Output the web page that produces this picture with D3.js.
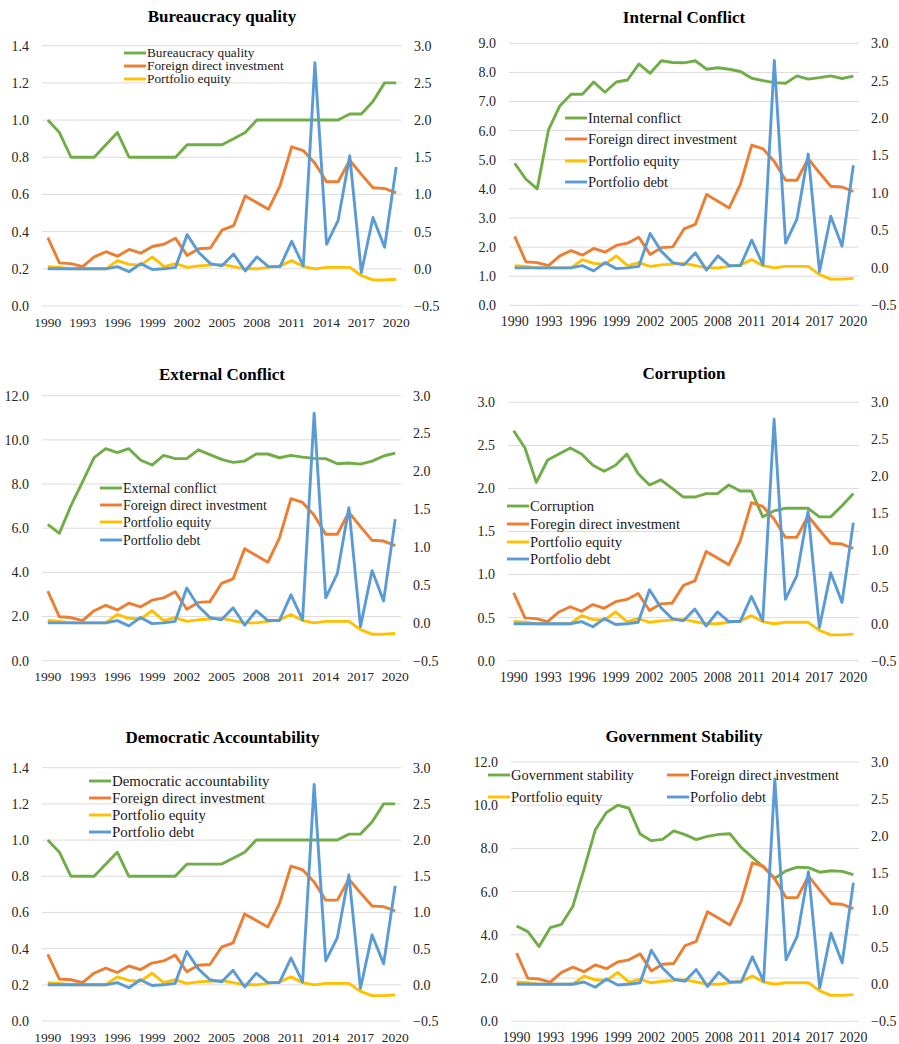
<!DOCTYPE html>
<html><head><meta charset="utf-8">
<script src="https://cdn.jsdelivr.net/npm/d3@7"></script>
<style>body{margin:0;background:#fff}svg{display:block}text{font-family:"Liberation Serif","Times New Roman",serif}</style>
</head><body><svg id="c" width="899" height="1044"></svg>
<script>
const years = d3.range(1990, 2021);
const yearTicks = [1990,1993,1996,1999,2002,2005,2008,2011,2014,2017,2020];
const fdi = [0.42,0.08,0.07,0.03,0.16,0.23,0.17,0.26,0.21,0.30,0.33,0.41,0.18,0.27,0.28,0.52,0.58,0.98,0.89,0.80,1.12,1.64,1.59,1.42,1.17,1.17,1.46,1.27,1.09,1.08,1.02];
const equity = [0.03,0.02,0.00,0.00,0.00,0.00,0.11,0.06,0.05,0.16,0.03,0.07,0.02,0.04,0.05,0.06,0.03,0.00,0.00,0.02,0.04,0.11,0.03,0.00,0.02,0.02,0.02,-0.09,-0.15,-0.15,-0.14];
const debt = [0,0,0,0,0,0,0.03,-0.04,0.07,-0.01,0.00,0.02,0.46,0.22,0.07,0.04,0.20,-0.03,0.16,0.03,0.03,0.37,0.04,2.77,0.33,0.65,1.52,-0.05,0.69,0.29,1.37];
const bureaucracy = [1.0,0.933,0.8,0.8,0.8,0.867,0.933,0.8,0.8,0.8,0.8,0.8,0.867,0.867,0.867,0.867,0.9,0.933,1.0,1.0,1.0,1.0,1.0,1.0,1.0,1.0,1.033,1.033,1.1,1.2,1.2];
const internalConflict = [4.88,4.33,4.0,6.03,6.85,7.25,7.25,7.67,7.32,7.67,7.74,8.29,7.97,8.40,8.34,8.33,8.40,8.11,8.16,8.11,8.03,7.80,7.72,7.65,7.63,7.88,7.77,7.82,7.88,7.79,7.87];
const externalConflict = [6.17,5.77,7.02,8.1,9.2,9.6,9.42,9.6,9.09,8.86,9.3,9.15,9.15,9.55,9.33,9.12,8.98,9.04,9.36,9.36,9.19,9.3,9.22,9.16,9.15,8.92,8.95,8.9,9.04,9.27,9.4];
const corruption = [2.67,2.47,2.07,2.33,2.40,2.47,2.40,2.27,2.20,2.27,2.40,2.17,2.04,2.10,2.0,1.90,1.90,1.94,1.94,2.04,1.97,1.97,1.67,1.74,1.77,1.77,1.77,1.67,1.67,1.80,1.94];
const democratic = [1.0,0.933,0.8,0.8,0.8,0.867,0.933,0.8,0.8,0.8,0.8,0.8,0.867,0.867,0.867,0.867,0.9,0.933,1.0,1.0,1.0,1.0,1.0,1.0,1.0,1.0,1.033,1.033,1.1,1.2,1.2];
const govStability = [4.41,4.15,3.46,4.33,4.49,5.31,7.03,8.85,9.66,10.0,9.86,8.67,8.36,8.42,8.81,8.64,8.41,8.56,8.65,8.68,8.05,7.59,7.13,6.62,6.96,7.13,7.11,6.90,6.97,6.94,6.79];
const rightTicks = [-0.5,0,0.5,1.0,1.5,2.0,2.5,3.0];

const COL = {inst:"#70AD47", fdi:"#ED7D31", eq:"#FFC000", debt:"#5B9BD5"};

const panels = [
 {title:"Bureaucracy quality", inst:bureaucracy, lmax:1.4, lstep:0.2, x0:42, x1:402, yT:45.7, yB:306, tx:222, ty:22, yf:13.5, lgFont:13.3,
  legend:[{n:"Bureaucracy quality",c:COL.inst,x:124,y:53},{n:"Foreign direct investment",c:COL.fdi,x:124,y:66},{n:"Portfolio equity",c:COL.eq,x:124,y:79}]},
 {title:"Internal Conflict", inst:internalConflict, lmax:9, lstep:1, x0:509, x1:859, yT:43.3, yB:305.3, tx:684, ty:22.5, yf:14, lgFont:14.5,
  legend:[{n:"Internal conflict",c:COL.inst,x:565,y:118},{n:"Foreign direct investment",c:COL.fdi,x:565,y:139},{n:"Portfolio equity",c:COL.eq,x:565,y:161},{n:"Portfolio debt",c:COL.debt,x:565,y:182}]},
 {title:"External Conflict", inst:externalConflict, lmax:12, lstep:2, x0:42, x1:401, yT:395.7, yB:660.7, tx:222, ty:380, yf:13.5, lgFont:14,
  legend:[{n:"External conflict",c:COL.inst,x:100,y:488},{n:"Foreign direct investment",c:COL.fdi,x:100,y:505},{n:"Portfolio equity",c:COL.eq,x:100,y:522},{n:"Portfolio debt",c:COL.debt,x:100,y:540}]},
 {title:"Corruption", inst:corruption, lmax:3, lstep:0.5, x0:508, x1:859, yT:402.3, yB:660.7, tx:684, ty:379, yf:14, lgFont:14.6,
  legend:[{n:"Corruption",c:COL.inst,x:507,y:506},{n:"Foregin direct investment",c:COL.fdi,x:507,y:524},{n:"Portfolio equity",c:COL.eq,x:507,y:542},{n:"Portfolio debt",c:COL.debt,x:507,y:559}]},
 {title:"Democratic Accountability", inst:democratic, lmax:1.4, lstep:0.2, x0:42, x1:401, yT:767.7, yB:1021, tx:222.5, ty:743, yf:13.5, lgFont:14.9,
  legend:[{n:"Democratic accountability",c:COL.inst,x:89,y:781},{n:"Foreign direct investment",c:COL.fdi,x:89,y:798},{n:"Portfolio equity",c:COL.eq,x:89,y:815},{n:"Portfolio debt",c:COL.debt,x:89,y:832}]},
 {title:"Government Stability", inst:govStability, lmax:12, lstep:2, x0:511, x1:859, yT:762, yB:1021.3, tx:684, ty:742, yf:14, lgFont:14.5,
  legend:[{n:"Government stability",c:COL.inst,x:488,y:775},{n:"Foreign direct investment",c:COL.fdi,x:667,y:775},{n:"Portfolio equity",c:COL.eq,x:488,y:797},{n:"Porfolio debt",c:COL.debt,x:667,y:797}]}
];

const svg = d3.select("#c");
svg.append("rect").attr("width",899).attr("height",1044).attr("fill","#fff");

panels.forEach(p => {
  const g = svg.append("g");
  const x = d3.scalePoint().domain(years).range([p.x0, p.x1]).padding(0.5);
  const yL = d3.scaleLinear().domain([0, p.lmax]).range([p.yB, p.yT]);
  const yR = d3.scaleLinear().domain([-0.5, 3]).range([p.yB, p.yT]);
  const lt = d3.range(0, p.lmax + p.lstep/2, p.lstep);

  g.selectAll(".grid").data(lt).enter().append("line")
    .attr("x1", p.x0).attr("x2", p.x1)
    .attr("y1", d => yL(d)).attr("y2", d => yL(d))
    .attr("stroke", "#dcdcdc").attr("stroke-width", 1);

  g.selectAll(".ll").data(lt).enter().append("text")
    .attr("x", p.x0 - 13).attr("y", d => yL(d)).attr("dy", "0.35em")
    .attr("text-anchor", "end").attr("font-size", 14).attr("fill", "#262626")
    .text(d => d3.format(".1f")(d));

  g.selectAll(".rl").data(rightTicks).enter().append("text")
    .attr("x", p.x1 + 12).attr("y", d => yR(d)).attr("dy", "0.35em")
    .attr("text-anchor", "start").attr("font-size", 14).attr("fill", "#262626")
    .text(d => d3.format(".1f")(d).replace("-", "\u2212"));

  g.selectAll(".xl").data(yearTicks).enter().append("text")
    .attr("x", d => x(d)).attr("y", p.yB + 16).attr("dy", "0.35em")
    .attr("text-anchor", "middle").attr("font-size", p.yf).attr("fill", "#262626")
    .text(d => d);

  g.append("text").attr("x", p.tx).attr("y", p.ty).attr("text-anchor", "middle")
    .attr("font-size", 17).attr("font-weight", "bold").attr("fill", "#000").text(p.title);

  const lineL = d3.line().x((d,i) => x(years[i])).y(d => yL(d));
  const lineR = d3.line().x((d,i) => x(years[i])).y(d => yR(d));
  const series = [
    {d:p.inst, f:lineL, c:COL.inst},
    {d:fdi, f:lineR, c:COL.fdi},
    {d:equity, f:lineR, c:COL.eq},
    {d:debt, f:lineR, c:COL.debt}
  ];
  series.forEach(s => {
    g.append("path").attr("d", s.f(s.d)).attr("fill", "none")
      .attr("stroke", s.c).attr("stroke-width", 2.9).attr("stroke-linejoin", "round");
  });

  const lg = g.selectAll(".lg").data(p.legend).enter().append("g");
  lg.append("line").attr("x1", d => d.x).attr("x2", d => d.x + 22)
    .attr("y1", d => d.y).attr("y2", d => d.y)
    .attr("stroke", d => d.c).attr("stroke-width", 2.9);
  lg.append("text").attr("x", d => d.x + 23).attr("y", d => d.y).attr("dy", "0.33em")
    .attr("font-size", p.lgFont).attr("fill", "#1a1a1a").text(d => d.n);
});
</script></body></html>
